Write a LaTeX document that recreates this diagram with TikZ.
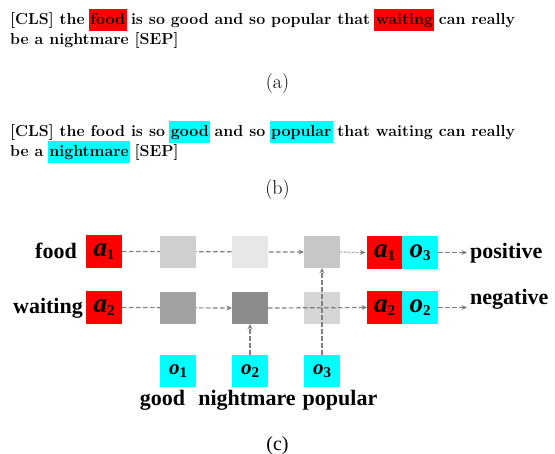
\documentclass[tikz,border=0pt]{standalone}
\usepackage{fontspec}
\newfontfamily\tnr{Liberation Serif}
\usetikzlibrary{arrows.meta}
\definecolor{hlred}{HTML}{FF0000}
\definecolor{hlcyan}{HTML}{00FFFF}
\definecolor{flowgray}{HTML}{7F7F7F}
\definecolor{gA}{HTML}{D0CECF}
\definecolor{gB}{HTML}{E8E7E8}
\definecolor{gC}{HTML}{C8C6C7}
\definecolor{gD}{HTML}{A3A2A1}
\definecolor{gE}{HTML}{8E8B8B}
\definecolor{gF}{HTML}{D5D5D5}
\pgfdeclarelayer{background}
\pgfsetlayers{background,main}

% highlighted word in the sentences
\newcommand\hlword[2]{{\setlength\fboxsep{0pt}\hspace{-1.5pt}\colorbox{#1}{\hspace{1.5pt}\rule[-6pt]{0pt}{22pt}#2\hspace{1.5pt}}\hspace{-1.5pt}}}
% vector label: bold italic letter with an upright subscript digit
\newcommand\vlab[3]{{\tnr\bfseries\fontsize{#3}{#3}\selectfont\itshape #1}{\tnr\bfseries\fontsize{15}{15}\selectfont\raisebox{-3.5pt}{#2}}}

\tikzset{
  sent/.style={anchor=base west, inner sep=0pt, font=\fontsize{15.9}{20}\selectfont\bfseries},
  caption/.style={inner sep=0pt, font=\fontsize{20}{20}\selectfont},
  cell/.style={minimum width=36pt, minimum height=32pt, inner sep=0pt, outer sep=0pt},
  aspect/.style={cell, fill=hlred, minimum height=33pt},
  opin/.style={cell, fill=hlcyan},
  word/.style={inner sep=0pt, font=\tnr\bfseries\fontsize{22}{22}\selectfont},
  flow/.style={draw=flowgray, line width=1.2pt, dash pattern=on 4.5pt off 2.5pt,
    -{Stealth[length=5.5pt,width=5pt]}},
  thin flow/.style={flow, line width=0.8pt, dash pattern=on 2.5pt off 1.5pt},
}

\begin{document}
\begin{tikzpicture}[x=1pt,y=-1pt]
\useasboundingbox (0,0) rectangle (555,454);

% (a) aspect words
\node[sent] (sa1) at (10,25) {[CLS] the \hlword{hlred}{food} is so good and so popular that \hlword{hlred}{waiting} can really};
\node[sent] (sa2) at (10,45) {be a nightmare [SEP]};
\node[caption] (capa) at (277.5,84) {(a)};

% (b) opinion words
\node[sent] (sb1) at (10,136.7) {[CLS] the food is so \hlword{hlcyan}{good} and so \hlword{hlcyan}{popular} that waiting can really};
\node[sent] (sb2) at (10,156.7) {be a \hlword{hlcyan}{nightmare} [SEP]};
\node[caption] (capb) at (277.5,190) {(b)};

% (c) pairing
\node[aspect] (a1) at (104,251.5) {\vlab{a}{1}{27}};
\node[aspect] (a2) at (104,307.5) {\vlab{a}{2}{27}};

\node[cell, fill=gA] (g11) at (178,252) {};
\node[cell, fill=gB] (g12) at (250,252) {};
\node[cell, fill=gC] (g13) at (322,252) {};
\node[cell, fill=gD] (g21) at (178,308) {};
\node[cell, fill=gE] (g22) at (250,308) {};
\node[cell, fill=gF] (g23) at (322,308) {};

\node[aspect, minimum width=35pt] (pa1) at (384.5,252.5) {\vlab{a}{1}{27}};
\node[opin, minimum height=33pt] (po3) at (420,252.5) {\vlab{o}{3}{27}};
\node[aspect, minimum width=35pt] (pa2) at (384.5,307.5) {\vlab{a}{2}{27}};
\node[opin, minimum height=33pt] (po2) at (420,307.5) {\vlab{o}{2}{27}};

\node[opin] (o1) at (178,371) {\vlab{o}{1}{21}};
\node[opin] (o2) at (250,371) {\vlab{o}{2}{21}};
\node[opin] (o3) at (322,371) {\vlab{o}{3}{21}};

\node[word, anchor=base east] (wfood) at (77,259) {food};
\node[word, anchor=base east] (wwait) at (83,314) {waiting};
\node[word, anchor=base west] (wpos) at (470,259) {positive};
\node[word, anchor=base west] (wneg) at (470,305) {negative};
\node[word, anchor=base] (wgood) at (162.5,406) {good};
\node[word, anchor=base] (wnight) at (247,406) {nightmare};
\node[word, anchor=base] (wpop) at (340,406) {popular};

\node[inner sep=0pt, font=\tnr\fontsize{20}{20}\selectfont] (capc) at (277.5,446) {(c)};

% connectors hidden behind the gray cells
\begin{pgfonlayer}{background}
  \draw[flow] (a1.east) -- (g13.west);
  \draw[flow] (a2.east) -- (g22.west);
\end{pgfonlayer}

% connectors drawn over the cells
\draw[thin flow, shorten >=1.5pt] (g13.east) -- (pa1.west);
\draw[flow] (g22.east) -- (pa2.west);
\draw[flow] (o2.north) -- (g22.south);
\draw[flow] (o3.north) -- (g13.south);
\draw[flow, shorten >=3pt] (po3.east) -- (po3.east -| wpos.west);
\draw[flow, shorten >=3pt] (po2.east) -- (po2.east -| wneg.west);
\end{tikzpicture}
\end{document}
